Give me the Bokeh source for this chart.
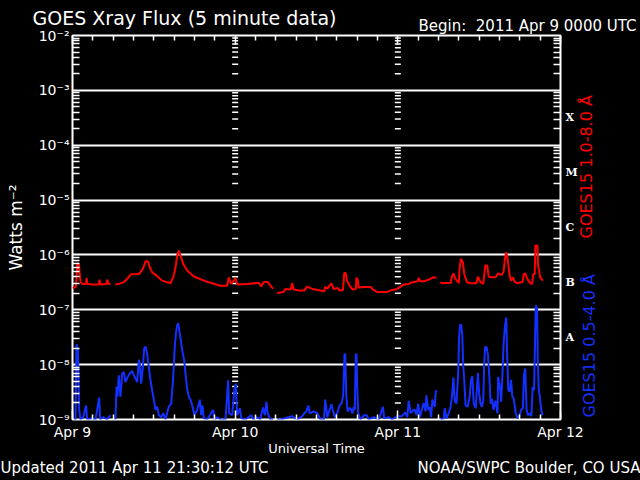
import numpy as np
from bokeh.plotting import figure
from bokeh.models import (Range1d, LogAxis, LinearAxis, FixedTicker, CustomJSTickFormatter,
                          ColumnDataSource, GlobalInlineStyleSheet)
from bokeh.embed import file_html
from bokeh.resources import INLINE

# ---------------- data (hours since 2011 Apr 9 00:00 UTC, flux in W m^-2) ----------------
DAY_LABELS = ["Apr 9", "Apr 10", "Apr 11", "Apr 12"]
DAY_HOURS = [0, 24, 48, 72]
DECADE_EXPONENTS = [-9, -8, -7, -6, -5, -4, -3, -2]
CLASS_NAMES = ["A", "B", "C", "M", "X"]
CLASS_EXPONENTS = [-8, -7, -6, -5, -4]

LONG_T = [
    0.0, 0.5, 0.74, 0.95, 1.18, 1.5, 2.0, 2.07, 2.2, 3.0,
    3.9, 3.98, 4.1, 5.0, 5.12, 5.3, 5.6, 5.9, 6.34, 7.0,
    7.57, 8.07, 8.66, 9.78, 10.0, 10.43, 10.77, 11.11, 11.4, 11.76,
    12.5, 13.23, 14.46, 14.86, 15.2, 15.45, 15.68, 15.93, 16.33, 16.92,
    17.9, 19.13, 20.36, 21.83, 22.82, 23.06, 23.41, 24.05, 24.3, 25.78,
    27.5, 27.84, 28.23, 28.8, 29.2, 29.6, 29.9, 30.2, 31.1, 31.4,
    32.2, 32.4, 32.65, 33.4, 34.2, 34.6, 35.4, 36.6, 37.1, 37.3,
    37.6, 38.2, 38.5, 39.1, 39.4, 39.9, 40.1, 40.3, 40.5, 40.9,
    41.3, 41.8, 41.9, 42.1, 42.2, 43.0, 44.0, 44.4, 45.0, 46.4,
    46.9, 47.9, 48.9, 49.6, 49.9, 50.9, 51.1, 51.3, 51.8, 52.8,
    53.2, 53.7, 54.0, 54.3, 54.5, 55.8, 56.0, 56.2, 56.5, 57.0,
    57.1, 57.3, 57.6, 57.8, 58.2, 58.7, 59.6, 59.8, 60.2, 60.6,
    60.9, 61.2, 61.4, 61.7, 62.4, 62.8, 63.3, 63.6, 63.8, 64.0,
    64.2, 64.5, 64.7, 65.0, 65.2, 65.6, 66.4, 66.6, 66.8, 67.1,
    67.5, 67.8, 68.0, 68.2, 68.3, 68.6, 68.7, 68.9, 69.0, 69.4,
]
LONG_FLUX = [
    2.5e-7, 2.6e-7, 7.2e-7, 6.5e-7, 3.2e-7, 2.95e-7, 2.95e-7, 3.8e-7, 2.95e-7, 2.9e-7,
    2.9e-7, 3.55e-7, 2.9e-7, 2.95e-7, 3.55e-7, 2.95e-7, 2.95e-7, None, 2.9e-7, 3.0e-7,
    3.2e-7, 3.65e-7, 4.45e-7, 4.5e-7, 4.8e-7, 5.7e-7, 7.65e-7, 7.65e-7, 5.95e-7, 4.8e-7,
    4.1e-7, 3.4e-7, 3.05e-7, 3.9e-7, 5.95e-7, 9.7e-7, 1.2e-6, 9.7e-7, 6.9e-7, 5.2e-7,
    4.05e-7, 3.5e-7, 3.1e-7, 2.75e-7, 2.75e-7, 3.9e-7, 2.95e-7, 3.8e-7, 2.9e-7, 2.95e-7,
    3.1e-7, 2.65e-7, 3.2e-7, 3.2e-7, 2.75e-7, 2.4e-7, None, 2.03e-7, 2.1e-7, 2.4e-7,
    2.35e-7, 3.05e-7, 2.35e-7, 2.24e-7, 2.24e-7, 2.65e-7, 2.4e-7, 2.24e-7, 2.15e-7, 2.65e-7,
    2.4e-7, 3.05e-7, 2.4e-7, 2.5e-7, 2.24e-7, 2.3e-7, 4.7e-7, 4.7e-7, 3.4e-7, 2.75e-7,
    2.35e-7, 2.4e-7, 3.85e-7, 3.5e-7, 2.55e-7, 2.6e-7, 2.6e-7, 2.3e-7, 2.1e-7, 2.1e-7,
    2.24e-7, 2.4e-7, 2.9e-7, 2.95e-7, 3.1e-7, 3.3e-7, 3.8e-7, 3.3e-7, 3.3e-7, 3.65e-7,
    3.9e-7, 3.85e-7, None, 3.2e-7, 3.05e-7, 3.1e-7, 4.05e-7, 4.6e-7, 3.65e-7, 3.05e-7,
    5.6e-7, 8.5e-7, 7.3e-7, 4.5e-7, 3.2e-7, 3.05e-7, 3.05e-7, 4.0e-7, 3.2e-7, 2.95e-7,
    6.4e-7, 6.4e-7, 4.05e-7, 3.9e-7, 3.9e-7, 4.6e-7, 4.3e-7, 5.0e-7, 8.5e-7, 1.12e-6,
    8.5e-7, 4.2e-7, 3.4e-7, 3.9e-7, 3.3e-7, 3.05e-7, 3.2e-7, 4.5e-7, 4.6e-7, 3.65e-7,
    3.1e-7, 2.95e-7, 4.5e-7, 4.5e-7, 1.48e-6, 1.48e-6, 6.4e-7, 4.8e-7, 3.9e-7, 3.4e-7,
]

SHORT_T = [
    0.2, 0.44, 0.59, 0.79, 0.98, 1.18, 1.57, 2.0, 2.16, 2.9,
    3.4, 3.93, 4.08, 4.52, 5.1, 5.6, 5.9, 6.34, 6.5, 6.64,
    6.83, 7.08, 7.33, 7.57, 7.82, 8.16, 8.46, 8.8, 9.05, 9.3,
    9.54, 9.79, 9.93, 10.13, 10.38, 10.57, 10.77, 11.0, 11.26, 11.5,
    11.76, 12.0, 12.25, 12.5, 12.74, 13.08, 13.38, 13.72, 14.2, 14.56,
    14.85, 15.05, 15.25, 15.45, 15.6, 15.79, 15.98, 16.23, 16.48, 16.72,
    16.92, 17.16, 17.41, 17.66, 18.0, 18.4, 18.79, 18.98, 19.18, 19.38,
    19.87, 20.76, 20.95, 21.35, 21.84, 22.57, 22.97, 23.11, 23.56, 23.9,
    24.1, 24.3, 24.7, 24.9, 25.5, 26.4, 26.7, 27.25, 27.7, 28.1,
    28.4, 28.6, 28.8, 29.2, 29.6, 29.9, 30.2, 30.7, 32.4, 33.15,
    33.9, 34.2, 34.5, 34.8, 35.0, 35.6, 36.1, 36.6, 37.1, 37.3,
    37.6, 38.2, 38.4, 38.7, 39.05, 39.4, 39.7, 39.94, 40.13, 40.24,
    40.3, 40.4, 40.6, 40.8, 41.0, 41.3, 41.5, 41.65, 41.8, 41.9,
    42.0, 42.15, 42.5, 43.0, 43.4, 43.7, 44.45, 45.2, 45.8, 46.0,
    46.7, 47.2, 47.9, 48.6, 49.1, 49.4, 49.6, 49.9, 50.3, 50.5,
    50.75, 51.0, 51.25, 51.6, 51.8, 52.1, 52.2, 52.5, 52.7, 52.9,
    53.1, 53.3, 53.45, 53.6, 53.8, 54.0, 54.3, 54.8, 54.9, 55.2,
    55.5, 55.8, 56.0, 56.2, 56.4, 56.65, 56.9, 57.05, 57.2, 57.35,
    57.5, 57.65, 57.8, 58.0, 58.3, 58.6, 58.8, 59.0, 59.2, 59.5,
    59.8, 60.0, 60.2, 60.4, 60.6, 60.75, 60.9, 61.1, 61.3, 61.5,
    61.7, 61.9, 62.1, 62.4, 62.7, 62.8, 63.05, 63.25, 63.45, 63.6,
    63.8, 64.0, 64.1, 64.3, 64.5, 64.7, 64.9, 65.1, 65.4, 65.6,
    65.85, 66.2, 66.45, 66.6, 66.8, 67.0, 67.2, 67.5, 67.7, 67.9,
    68.1, 68.2, 68.35, 68.55, 68.65, 68.8, 68.95, 69.15, 69.35,
]
SHORT_FLUX = [
    1e-9, 1e-9, 2.35e-8, 1.95e-8, 1.5e-9, 1e-9, 1.1e-9, 1.8e-9, 1e-9, 1.05e-9,
    1e-9, 2.5e-9, 1e-9, 1.1e-9, 1e-9, 1.2e-9, None, 1e-9, 4.0e-9, 2.6e-9,
    6.4e-9, 2.6e-9, 6.9e-9, 7.3e-9, 4.8e-9, 6e-9, 6.9e-9, 7.7e-9, 6.4e-9, 5.6e-9,
    4.8e-9, 1.23e-8, 1.05e-8, 4.5e-9, 9e-9, 1.96e-8, 2.15e-8, 1.6e-8, 9e-9, 5.2e-9,
    3.4e-9, 2.3e-9, 1.5e-9, 1.7e-9, 1.2e-9, 1.1e-9, 1.3e-9, 1e-9, 1.7e-9, 1.95e-9,
    5.6e-9, 1.8e-8, 3.65e-8, 5.3e-8, 5.7e-8, 3.9e-8, 2.8e-8, 1.7e-8, 1.2e-8, 6e-9,
    3.6e-9, 2.6e-9, 2.3e-9, 1.8e-9, 1.2e-9, 1.5e-9, 2.3e-9, 1.2e-9, 1.8e-9, 1.05e-9,
    1e-9, 1.5e-9, 1e-9, 1.1e-9, 1e-9, 1e-9, 5.2e-9, 1.3e-9, 1.2e-9, 3.6e-9,
    4.5e-9, 1.2e-9, 1.6e-9, 1.05e-9, 1e-9, 1.2e-9, 1e-9, 1.1e-9, 1e-9, 1.65e-9,
    1.2e-9, 2.1e-9, 1.3e-9, 1e-9, 1e-9, None, 1e-9, 1e-9, 1.15e-9, 1e-9,
    1.15e-9, 1.3e-9, 1.4e-9, 1.8e-9, 1.3e-9, 1.4e-9, 1.3e-9, 1e-9, 1e-9, 2.3e-9,
    1.1e-9, 1.9e-9, 1.5e-9, 1.1e-9, 1.3e-9, 1.8e-9, 1.95e-9, 2.8e-9, 1.54e-8, 1.54e-8,
    7.7e-9, 2.6e-9, 1.4e-9, 1.6e-9, 1.6e-9, 1.3e-9, 1.7e-9, 1.5e-9, 1.54e-8, 1.54e-8,
    4.5e-9, 1.3e-9, 1e-9, 1.2e-9, 1.2e-9, 1e-9, 1.1e-9, 1e-9, 1.7e-9, 1.05e-9,
    1.1e-9, 1e-9, 1.15e-9, 1.15e-9, 1.35e-9, 1.1e-9, 2.2e-9, 1.3e-9, 1.5e-9, 1.5e-9,
    1.2e-9, 1.95e-9, 1.1e-9, 1.6e-9, 2.0e-9, 1.4e-9, 2.75e-9, 1.5e-9, 1.7e-9, 1.1e-9,
    2.3e-9, 1.95e-9, 1.7e-9, 3.3e-9, 3.3e-9, None, 1e-9, 1.05e-9, 1.6e-9, 1.05e-9,
    1.3e-9, 1.7e-9, 2.75e-9, 5.8e-9, 2.2e-9, 1.95e-9, 6.9e-9, 3.4e-8, 5.4e-8, 5.2e-8,
    3.65e-8, 9.8e-9, 5.2e-9, 1.8e-9, 1.7e-9, 2.6e-9, 5.3e-9, 6.1e-9, 1.95e-9, 1.6e-9,
    7.1e-9, 3.0e-9, 1.95e-9, 1.7e-9, 2.2e-9, 1.12e-8, 2.15e-8, 2.05e-8, 1.5e-8, 6e-9,
    1.95e-9, 2.4e-9, 1.5e-9, 2.2e-9, 1.3e-9, 6e-9, 4e-9, 2.1e-9, 7.4e-9, 2.4e-8,
    5e-8, 7.2e-8, 1.9e-8, 3.5e-9, 3.2e-9, 5.3e-9, 2.6e-9, 2.4e-9, 1.3e-9, 1.1e-9,
    1.05e-9, 1.5e-9, 1.6e-9, 6.4e-9, 8.5e-9, 1.5e-9, 1.2e-9, 1.3e-9, 1.15e-9, 3.9e-9,
    3.4e-9, 1.4e-8, 1.2e-7, 1.04e-7, 1.2e-8, 3.4e-9, 2.65e-9, 1.5e-9, 1.2e-9,
]

TITLE = "GOES Xray Flux (5 minute data)"
BEGIN = "Begin:\u00a0 2011 Apr 9 0000 UTC"
UPDATED = "Updated 2011 Apr 11 21:30:12 UTC"
CREDIT = "NOAA/SWPC Boulder, CO USA"
X_TITLE = "Universal Time"
Y_TITLE = "Watts m\u207b\u00b2"
LONG_NAME = "GOES15 1.0-8.0 \u00c5"
SHORT_NAME = "GOES15 0.5-4.0 \u00c5"

assert len(LONG_T) == len(LONG_FLUX)
assert len(SHORT_T) == len(SHORT_FLUX)

# ---------------- styling ----------------
FONT = "DejaVu Sans"
RED = "#ff0000"
BLUE = "#1430ff"
W, H = 640, 480
LEFT, RIGHT, TOP, BOTTOM = 72, 80, 35, 61
FRAME_W, FRAME_H = W - LEFT - RIGHT, H - TOP - BOTTOM

decades = [10.0 ** e for e in DECADE_EXPONENTS]
minor_y = [m * d for d in decades[:-1] for m in range(2, 10)]
class_mid = [10.0 ** (e + 0.5) for e in CLASS_EXPONENTS]
hour_minor = [h for h in range(DAY_HOURS[0], DAY_HOURS[-1] + 1, 3) if h not in DAY_HOURS]
x0, x1 = DAY_HOURS[0], DAY_HOURS[-1]
e0, e1 = DECADE_EXPONENTS[0], DECADE_EXPONENTS[-1]

def px_to_x(px):
    return x0 + (px - LEFT) / FRAME_W * (x1 - x0)

def py_to_y(py):
    return 10.0 ** (e1 - (py - TOP) / FRAME_H * (e1 - e0))

p = figure(width=W, height=H, x_range=Range1d(x0, x1),
           y_range=Range1d(decades[0], decades[-1]), y_axis_type="log",
           output_backend="svg", toolbar_location=None, title=None,
           background_fill_color="black", border_fill_color="black",
           min_border_left=LEFT, min_border_right=RIGHT, min_border_top=TOP, min_border_bottom=BOTTOM)
p.outline_line_color = "white"
p.outline_line_width = 2
p.stylesheets = [GlobalInlineStyleSheet(css="html, body { background-color: black; }")]

p.xgrid.visible = False
p.ygrid.grid_line_color = "white"
p.ygrid.grid_line_width = 2
p.ygrid.grid_line_alpha = 1.0

sup = "{'-':'\u207b','0':'\u2070','1':'\u00b9','2':'\u00b2','3':'\u00b3','4':'\u2074','5':'\u2075','6':'\u2076','7':'\u2077','8':'\u2078','9':'\u2079'}"

# left axis
ya = p.yaxis[0]
ya.ticker = FixedTicker(ticks=decades, minor_ticks=minor_y)
ya.formatter = CustomJSTickFormatter(code="""
const m = %s;
const e = Math.round(Math.log10(tick));
return '10' + String(e).split('').map(c => m[c]).join('');
""" % sup)
ya.axis_line_color = None
ya.major_tick_in = 0
ya.major_tick_out = 0
ya.minor_tick_in = 7
ya.minor_tick_out = 0
ya.minor_tick_line_color = "white"
ya.minor_tick_line_width = 1.5
ya.major_label_text_color = "white"
ya.major_label_text_font = FONT
ya.major_label_text_font_size = "14px"
ya.major_label_standoff = 3
ya.axis_label = Y_TITLE
ya.axis_label_text_color = "white"
ya.axis_label_text_font = FONT
ya.axis_label_text_font_style = "normal"
ya.axis_label_text_font_size = "17px"
ya.axis_label_standoff = 10

# right axis with flare classes
ra = LogAxis(ticker=FixedTicker(ticks=class_mid, minor_ticks=minor_y),
             formatter=CustomJSTickFormatter(args=dict(names=CLASS_NAMES, exps=CLASS_EXPONENTS), code="""
const e = Math.floor(Math.log10(tick) + 1e-9);
const i = exps.indexOf(e);
return i >= 0 ? names[i] : '';
"""))
ra.axis_line_color = None
ra.major_tick_in = 0
ra.major_tick_out = 0
ra.minor_tick_in = 7
ra.minor_tick_out = 0
ra.minor_tick_line_color = "white"
ra.minor_tick_line_width = 1.5
ra.major_label_text_color = "white"
ra.major_label_text_font = "DejaVu Serif"
ra.major_label_text_font_style = "bold"
ra.major_label_text_font_size = "11px"
ra.major_label_standoff = 5
p.add_layout(ra, "right")

# bottom axis
xa = p.xaxis[0]
xa.ticker = FixedTicker(ticks=DAY_HOURS, minor_ticks=hour_minor)
xa.major_label_overrides = {h: lab for h, lab in zip(DAY_HOURS, DAY_LABELS)}
xa.axis_line_color = None
xa.major_tick_in = 9
xa.major_tick_out = 0
xa.minor_tick_in = 5
xa.minor_tick_out = 0
xa.major_tick_line_color = "white"
xa.minor_tick_line_color = "white"
xa.major_tick_line_width = 1.5
xa.minor_tick_line_width = 1.5
xa.major_label_text_color = "white"
xa.major_label_text_font = FONT
xa.major_label_text_font_size = "14px"
xa.major_label_standoff = 4

# top axis (ticks only, labels not painted)
ta = LinearAxis(ticker=FixedTicker(ticks=DAY_HOURS, minor_ticks=hour_minor))
ta.axis_line_color = None
ta.major_tick_in = 9
ta.major_tick_out = 0
ta.minor_tick_in = 5
ta.minor_tick_out = 0
ta.major_tick_line_color = "white"
ta.minor_tick_line_color = "white"
ta.major_tick_line_width = 1.5
ta.minor_tick_line_width = 1.5
ta.major_label_text_font_size = "1px"
ta.major_label_text_color = None
ta.major_label_standoff = 0
p.add_layout(ta, "above")

# free texts carried as tick labels of tick-less helper axes
def text_axis(side, ticks, labels, size, color="white", standoff=0, orientation="horizontal", log=False):
    Axis = LogAxis if log else LinearAxis
    ax = Axis(ticker=FixedTicker(ticks=ticks, minor_ticks=[]),
              formatter=CustomJSTickFormatter(args=dict(t=ticks, l=labels), code="""
let best = 0, bd = Infinity;
for (let i = 0; i < t.length; i++) {
  const d = Math.abs(tick - t[i]) / Math.abs(t[i]);
  if (d < bd) { bd = d; best = i; }
}
return l[best];
"""))
    ax.axis_line_color = None
    ax.major_tick_in = 0
    ax.major_tick_out = 0
    ax.minor_tick_in = 0
    ax.minor_tick_out = 0
    ax.major_tick_line_color = None
    ax.minor_tick_line_color = None
    ax.major_label_text_color = color
    ax.major_label_text_font = FONT
    ax.major_label_text_font_size = f"{size}px"
    ax.major_label_standoff = standoff
    ax.major_label_orientation = orientation
    p.add_layout(ax, side)
    return ax

# above: "Begin" line (inner), title (outer, pulled down to share the row)
text_axis("above", [px_to_x((418 + 636) / 2)], [BEGIN], 15, standoff=1)
text_axis("above", [px_to_x((33 + 335) / 2)], [TITLE], 19, standoff=-15)
# below: x title, then footer
text_axis("below", [px_to_x(316)], [X_TITLE], 13, standoff=-2)
text_axis("below", [px_to_x((0 + 267) / 2), px_to_x((427 + 639) / 2)], [UPDATED, CREDIT], 15, standoff=0)
# right: channel names, rotated (label starts at its tick and reads upward)
text_axis("right", [py_to_y(238)], [LONG_NAME], 16, color=RED, standoff=6, orientation=np.pi / 2, log=True)
text_axis("right", [py_to_y(417)], [SHORT_NAME], 16, color=BLUE, standoff=-19, orientation=np.pi / 2, log=True)

# inner day-boundary tick columns
for d in DAY_HOURS[1:-1]:
    p.scatter(x=[d] * len(minor_y), y=minor_y, marker="dash", size=6,
              line_color="white", line_width=1.5)

# data
short_src = ColumnDataSource(dict(t=np.array(SHORT_T, dtype=float), f=np.array(SHORT_FLUX, dtype=float)))
long_src = ColumnDataSource(dict(t=np.array(LONG_T, dtype=float), f=np.array(LONG_FLUX, dtype=float)))
p.line("t", "f", source=short_src, line_color=BLUE, line_width=2)
p.line("t", "f", source=long_src, line_color=RED, line_width=2)

open("out.html", "w").write(file_html(p, INLINE))
